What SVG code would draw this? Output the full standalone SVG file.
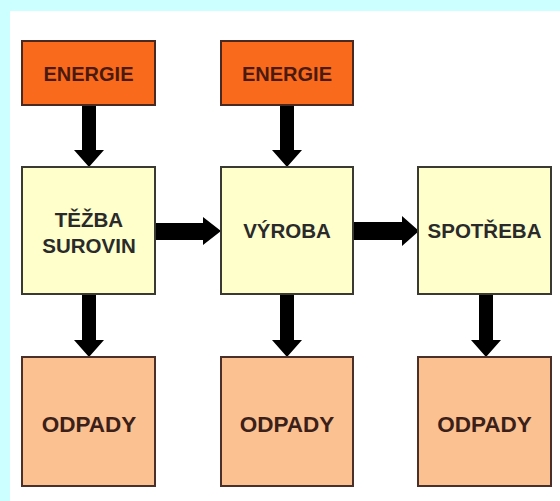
<svg xmlns="http://www.w3.org/2000/svg" width="560" height="501" viewBox="0 0 560 501">
<style>
.en{fill:#fa6a1c;stroke:#4a2a20;stroke-width:2}
.pr{fill:#ffffcc;stroke:#3a3a32;stroke-width:2}
.od{fill:#fbc190;stroke:#4a3028;stroke-width:2}
text{font-family:"Liberation Sans",Arial,sans-serif;font-weight:bold;text-anchor:middle}
.t1{font-size:20px;fill:#4a1a10}
.t2{font-size:20.5px;fill:#2a2a2a}
.t3{font-size:22.5px;fill:#3a2018}
.ar{fill:#000}
</style>
<rect x="0" y="0" width="560" height="501" fill="#ccffff"/>
<rect x="10" y="11" width="550" height="490" fill="#ffffff"/>
<g id="connectors" class="ar">
<polygon points="82,105 96,105 96,150 104,150 89,167 74,150 82,150"/>
<polygon points="280,105 294,105 294,150 302,150 287,167 272,150 280,150"/>
<polygon points="82,294 96,294 96,340 104,340 89,357 74,340 82,340"/>
<polygon points="280,294 294,294 294,340 302,340 287,357 272,340 280,340"/>
<polygon points="479,294 493,294 493,340 501,340 486,357 471,340 479,340"/>
<polygon points="155,223 203,223 203,217 221,231 203,245 203,240 155,240"/>
<polygon points="353,222 402,222 402,216 419,231 402,246 402,240 353,240"/>
</g>
<g id="energie1"><rect class="en" x="22" y="41" width="133" height="64"/><text class="t1" x="88.5" y="81">ENERGIE</text></g>
<g id="energie2"><rect class="en" x="221" y="41" width="132" height="64"/><text class="t1" x="287" y="81">ENERGIE</text></g>
<g id="tezba"><rect class="pr" x="22" y="167" width="133" height="127"/><text class="t2" x="89" y="227">TĚŽBA</text><text class="t2" x="89" y="253">SUROVIN</text></g>
<g id="vyroba"><rect class="pr" x="221" y="167" width="132" height="127"/><text class="t2" x="287" y="238">VÝROBA</text></g>
<g id="spotreba"><rect class="pr" x="418" y="167" width="133" height="127"/><text class="t2" x="484.5" y="238">SPOTŘEBA</text></g>
<g id="odpady1"><rect class="od" x="22" y="357" width="133" height="129"/><text class="t3" x="89" y="432">ODPADY</text></g>
<g id="odpady2"><rect class="od" x="221" y="357" width="132" height="129"/><text class="t3" x="287" y="432">ODPADY</text></g>
<g id="odpady3"><rect class="od" x="418" y="357" width="133" height="129"/><text class="t3" x="484.5" y="432">ODPADY</text></g>
</svg>
